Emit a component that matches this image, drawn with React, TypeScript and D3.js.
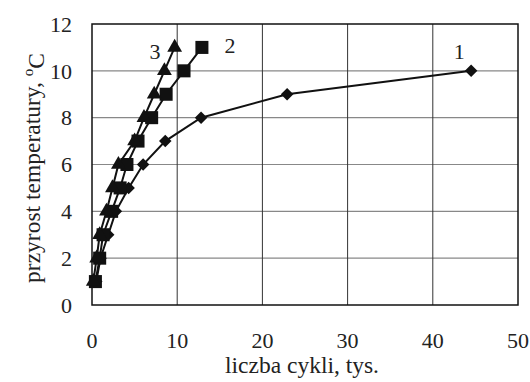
import { useEffect, useRef } from 'react';
import * as d3 from 'd3';

// temperature rise steps (°C)
const tempSteps1 = [1, 2, 3, 4, 5, 6, 7, 8, 9, 10];
const tempSteps23 = [1, 2, 3, 4, 5, 6, 7, 8, 9, 10, 11];

// number of cycles (thousands) for each curve
const cycles1 = [0.5, 1.0, 1.9, 2.8, 4.3, 6.0, 8.6, 12.8, 22.9, 44.5];
const cycles2 = [0.4, 0.9, 1.3, 2.3, 3.3, 4.1, 5.4, 7.0, 8.7, 10.8, 12.9];
const cycles3 = [0.15, 0.55, 0.9, 1.7, 2.4, 3.1, 5.0, 6.1, 7.3, 8.5, 9.7];

const xTicks = [0, 10, 20, 30, 40, 50];
const yTicks = [0, 2, 4, 6, 8, 10, 12];

export default function App() {
  const svgRef = useRef<SVGSVGElement>(null);

  useEffect(() => {
    if (!svgRef.current) return;
    const width = 530;
    const height = 382;
    const margin = { top: 24, right: 12, bottom: 77, left: 92 };
    const chartWidth = width - margin.left - margin.right;
    const chartHeight = height - margin.top - margin.bottom;

    const svg = d3.select(svgRef.current);
    svg.selectAll('*').remove();

    const g = svg.append('g').attr('transform', `translate(${margin.left},${margin.top})`);

    const xScale = d3.scaleLinear().domain([0, 50]).range([0, chartWidth]);
    const yScale = d3.scaleLinear().domain([0, 12]).range([chartHeight, 0]);

    const font = 'Liberation Serif';

    // grid
    g.selectAll('.hgrid')
      .data(yTicks.slice(1, -1))
      .join('line')
      .attr('x1', 0)
      .attr('x2', chartWidth)
      .attr('y1', (d) => yScale(d))
      .attr('y2', (d) => yScale(d))
      .attr('stroke', '#888')
      .attr('stroke-width', 1.2);

    g.selectAll('.vgrid')
      .data(xTicks.slice(1, -1))
      .join('line')
      .attr('x1', (d) => xScale(d))
      .attr('x2', (d) => xScale(d))
      .attr('y1', 0)
      .attr('y2', chartHeight)
      .attr('stroke', '#333')
      .attr('stroke-width', 1);

    g.append('rect')
      .attr('width', chartWidth)
      .attr('height', chartHeight)
      .attr('fill', 'none')
      .attr('stroke', '#111')
      .attr('stroke-width', 1.5);

    // tick labels
    g.selectAll('.xt')
      .data(xTicks)
      .join('text')
      .attr('x', (d) => xScale(d))
      .attr('y', chartHeight + 43)
      .attr('text-anchor', 'middle')
      .attr('font-family', font)
      .attr('font-size', 22)
      .attr('fill', '#222')
      .text((d) => d);

    g.selectAll('.yt')
      .data(yTicks)
      .join('text')
      .attr('x', -20)
      .attr('y', (d) => yScale(d))
      .attr('dy', '0.35em')
      .attr('text-anchor', 'end')
      .attr('font-family', font)
      .attr('font-size', 22)
      .attr('fill', '#222')
      .text((d) => d);

    // axis titles
    svg
      .append('text')
      .attr('x', margin.left + chartWidth / 2 - 3)
      .attr('y', 373)
      .attr('text-anchor', 'middle')
      .attr('font-family', font)
      .attr('font-size', 23.5)
      .attr('fill', '#222')
      .text('liczba cykli, tys.');

    const yTitle = svg
      .append('text')
      .attr('transform', `translate(40, 168) rotate(-90)`)
      .attr('text-anchor', 'middle')
      .attr('font-family', font)
      .attr('font-size', 23.5)
      .attr('fill', '#222');
    yTitle.append('tspan').text('przyrost temperatury, ');
    yTitle.append('tspan').attr('dy', '-0.45em').attr('font-size', 15).text('o');
    yTitle.append('tspan').attr('dy', '0.45em').text('C');

    const line = d3
      .line<[number, number]>()
      .x((d) => xScale(d[0]))
      .y((d) => yScale(d[1]));

    const series = [
      { xs: cycles1, ys: tempSteps1, symbol: d3.symbolDiamond2, size: 100 },
      { xs: cycles2, ys: tempSteps23, symbol: d3.symbolSquare, size: 170 },
      { xs: cycles3, ys: tempSteps23, symbol: d3.symbolTriangle, size: 95 },
    ];

    series.forEach((s) => {
      const pts = s.xs.map((x, i) => [x, s.ys[i]] as [number, number]);
      g.append('path')
        .datum(pts)
        .attr('fill', 'none')
        .attr('stroke', '#111')
        .attr('stroke-width', 2)
        .attr('d', line);
      g.selectAll(null)
        .data(pts)
        .join('path')
        .attr('transform', (d) => `translate(${xScale(d[0])},${yScale(d[1])})`)
        .attr('d', d3.symbol().type(s.symbol).size(s.size)())
        .attr('fill', '#111');
    });

    // curve labels
    const labels = [
      { text: '1', x: 43.1, y: 10.85 },
      { text: '2', x: 16.2, y: 11.1 },
      { text: '3', x: 7.4, y: 10.85 },
    ];
    g.selectAll('.lbl')
      .data(labels)
      .join('text')
      .attr('x', (d) => xScale(d.x))
      .attr('y', (d) => yScale(d.y))
      .attr('dy', '0.35em')
      .attr('text-anchor', 'middle')
      .attr('font-family', font)
      .attr('font-size', 22)
      .attr('fill', '#222')
      .text((d) => d.text);
  }, []);

  return (
    <svg
      ref={svgRef}
      width={530}
      height={382}
      style={{ position: 'absolute', left: 0, top: 0, background: '#fff' }}
    />
  );
}
